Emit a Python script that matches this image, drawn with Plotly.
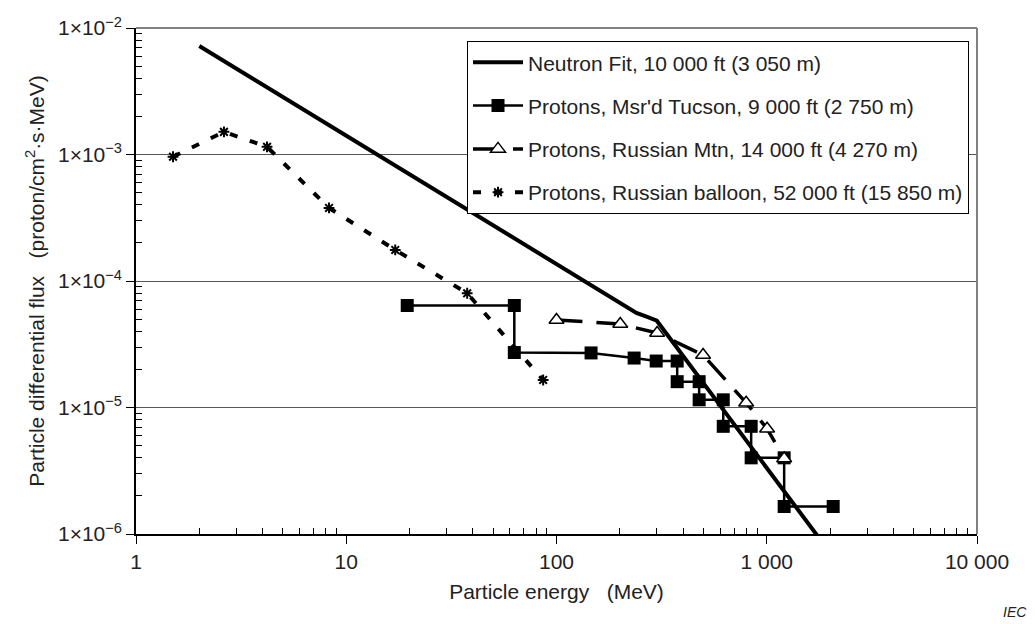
import plotly.graph_objects as go

# ---- data ----
neutron_x = [2.0, 240, 270, 300, 1800]
neutron_y = [7.2e-3, 5.6e-5, 5.2e-5, 4.85e-5, 9.0e-7]

tucson_x = [19.5, 63, 63, 146, 234, 298, 375, 375, 477, 477, 621, 621, 843, 843, 1210, 1210, 2070]
tucson_y = [6.4e-5, 6.4e-5, 2.72e-5, 2.7e-5, 2.46e-5, 2.33e-5, 2.33e-5, 1.6e-5, 1.6e-5,
            1.15e-5, 1.15e-5, 7.1e-6, 7.1e-6, 4.0e-6, 4.0e-6, 1.65e-6, 1.65e-6]

mtn_x = [100, 201, 301, 498, 798, 1004, 1210]
mtn_y = [4.92e-5, 4.57e-5, 3.88e-5, 2.6e-5, 1.09e-5, 6.8e-6, 3.95e-6]

balloon_x = [1.5, 2.62, 4.2, 8.28, 17.1, 37.6, 86.4]
balloon_y = [9.6e-4, 1.51e-3, 1.15e-3, 3.78e-4, 1.76e-4, 8.0e-5, 1.65e-5]

names = [
    "Neutron Fit, 10 000 ft (3 050 m)",
    "Protons, Msr'd Tucson, 9 000 ft (2 750 m)",
    "Protons, Russian Mtn, 14 000 ft (4 270 m)",
    "Protons, Russian balloon, 52 000 ft (15 850 m)",
]

x_tickvals = [1, 10, 100, 1000, 10000]
x_ticktext = ["1", "10", "100", "1 000", "10 000"]
y_tickvals = [1e-6, 1e-5, 1e-4, 1e-3, 1e-2]
y_ticktext = ["1\u00d710<sup>\u22126</sup>", "1\u00d710<sup>\u22125</sup>", "1\u00d710<sup>\u22124</sup>",
              "1\u00d710<sup>\u22123</sup>", "1\u00d710<sup>\u22122</sup>"]

minor_x = [m * 10 ** d for d in range(0, 4) for m in range(2, 10)]
minor_y = [m * 10.0 ** d for d in range(-6, -2) for m in range(2, 10)]

FONT = "Liberation Sans"
FS = 21

fig = go.Figure()

fig.add_trace(go.Scatter(
    x=neutron_x, y=neutron_y, mode="lines", name=names[0], legendgroup="a",
    line=dict(color="black", width=4),
))
fig.add_trace(go.Scatter(
    x=tucson_x, y=tucson_y, mode="lines+markers", name=names[1], legendgroup="b",
    line=dict(color="black", width=2.5),
    marker=dict(symbol="square", size=13, color="black"),
))
fig.add_trace(go.Scatter(
    x=mtn_x, y=mtn_y, mode="lines+markers", name=names[2], legendgroup="c",
    line=dict(color="black", width=3.5, dash="26px,14px"),
    marker=dict(symbol="triangle-up", size=13, color="white", line=dict(color="black", width=1.5)),
))
fig.add_trace(go.Scatter(
    x=balloon_x, y=balloon_y, mode="lines+markers", name=names[3], legendgroup="d",
    line=dict(color="black", width=4, dash="8px,13px"),
    marker=dict(symbol="asterisk-open", size=9, color="black", line=dict(color="black", width=2)),
))

fig.update_layout(
    width=1035, height=624,
    margin=dict(l=136, r=58, t=28, b=90),
    paper_bgcolor="white", plot_bgcolor="white",
    font=dict(family=FONT, size=FS, color="#222"),
    showlegend=True,
    legend=dict(
        x=0.3936, y=0.974, xanchor="left", yanchor="top",
        bgcolor="white", bordercolor="black", borderwidth=1,
        font=dict(family=FONT, size=FS, color="#222"), tracegroupgap=13, itemwidth=50,
    ),
    xaxis=dict(
        type="log", range=[0, 4],
        tickvals=x_tickvals, ticktext=x_ticktext,
        ticks="outside", ticklen=8, tickcolor="black", tickwidth=1,
        showline=True, linecolor="black", linewidth=1.5,
        showgrid=False, zeroline=False,
        minor=dict(tickvals=minor_x, ticks="inside", ticklen=6, tickcolor="black", showgrid=False),
        title=dict(text="Particle energy   (MeV)", standoff=12, font=dict(family=FONT, size=FS)),
        tickfont=dict(family=FONT, size=FS),
    ),
    yaxis=dict(
        type="log", range=[-6, -2],
        tickvals=y_tickvals, ticktext=y_ticktext,
        ticks="outside", ticklen=8, tickcolor="black", tickwidth=1,
        showline=True, linecolor="black", linewidth=1.5,
        showgrid=True, gridcolor="#555", gridwidth=1, zeroline=False,
        minor=dict(tickvals=minor_y, ticks="inside", ticklen=6, tickcolor="black", showgrid=False),
        title=dict(text="Particle differential flux   (proton/cm<sup>2</sup>\u00b7s\u00b7MeV)",
                   standoff=8, font=dict(family=FONT, size=FS)),
        tickfont=dict(family=FONT, size=FS),
    ),
    shapes=[
        dict(type="line", xref="paper", yref="paper", x0=0, x1=1, y0=1, y1=1,
             line=dict(color="#808080", width=2)),
        dict(type="line", xref="paper", yref="paper", x0=1, x1=1, y0=0, y1=1,
             line=dict(color="#808080", width=2)),
    ],
    annotations=[
        dict(text="<i>IEC</i>", xref="paper", yref="paper", x=1.062, y=-0.154,
             xanchor="right", yanchor="middle", showarrow=False,
             font=dict(family=FONT, size=14, color="#222")),
    ],
)

fig.write_html("out.html")
